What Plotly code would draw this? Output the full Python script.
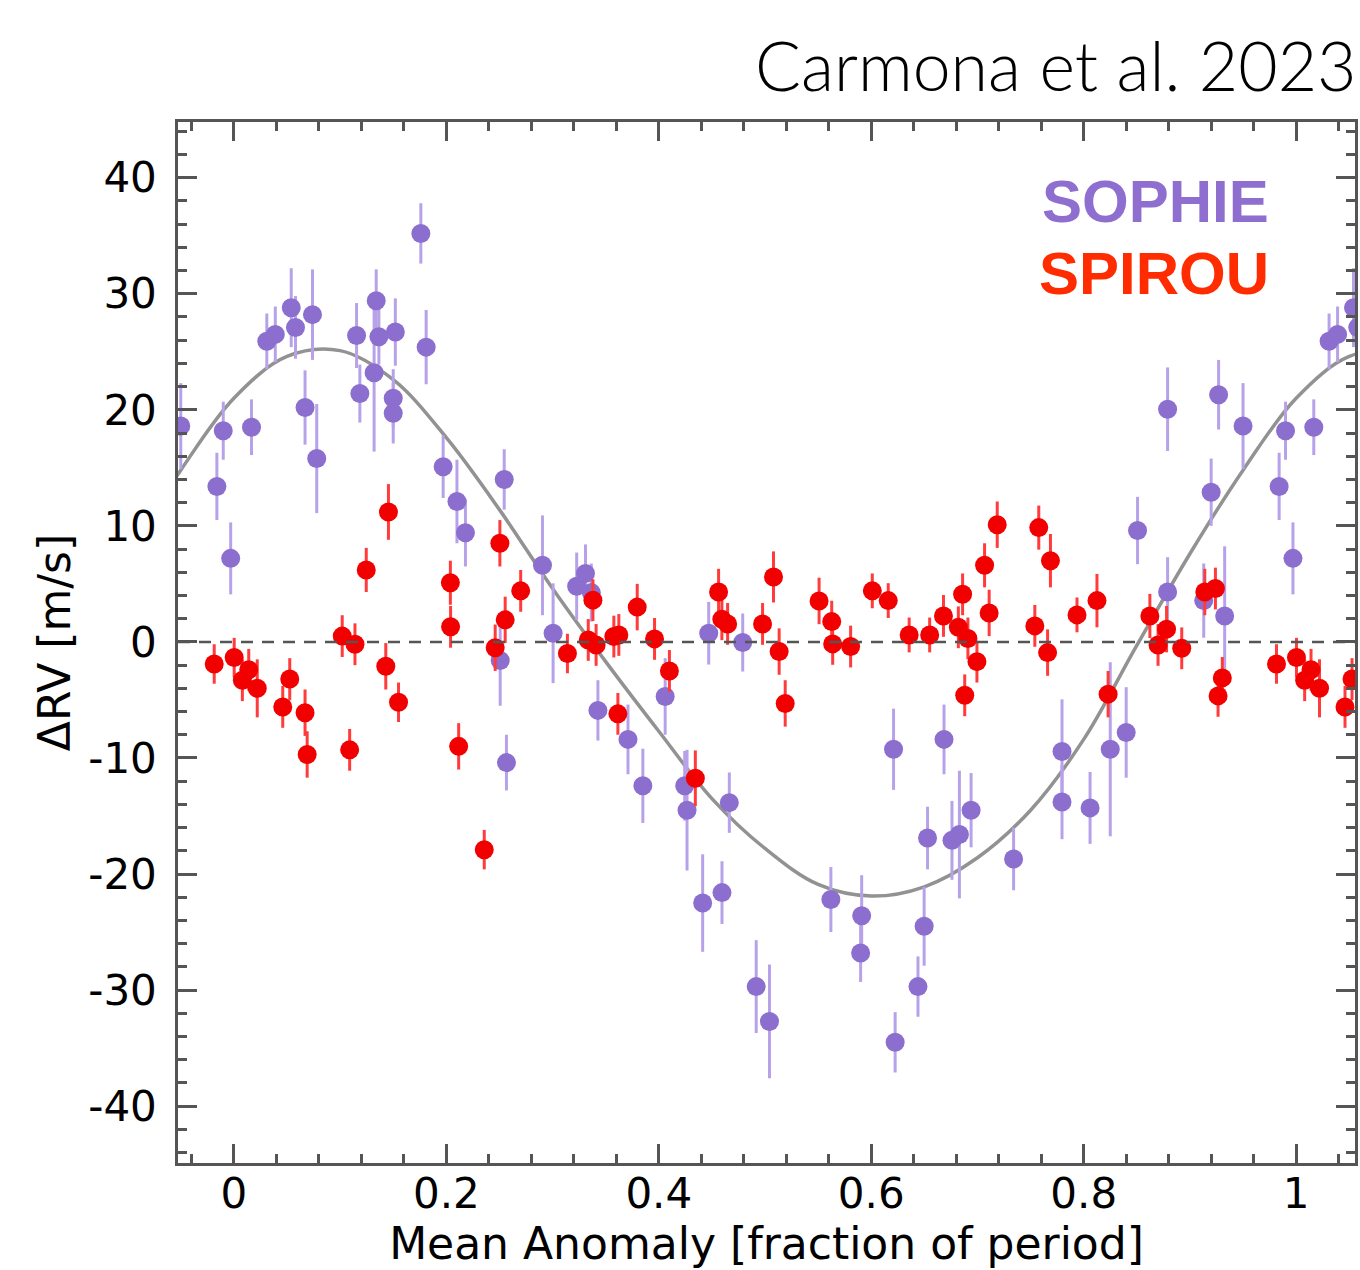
import plotly.graph_objects as go

# ---------------- data ----------------
# SOPHIE: orbital phase in [0,1), delta RV [m/s], error [m/s]
sophie_phase = [0.0166, 0.031, 0.039, 0.054, 0.058, 0.067, 0.074, 0.078, 0.1155, 0.1186,
                0.132, 0.134, 0.1365, 0.150, 0.150, 0.152, 0.176, 0.181, 0.197, 0.210,
                0.218, 0.2507, 0.2545, 0.2566, 0.2905, 0.3005, 0.3227, 0.331, 0.3365, 0.3427,
                0.371, 0.385, 0.406, 0.4244, 0.4266, 0.4413, 0.447, 0.4595, 0.4664, 0.479,
                0.4917, 0.5042, 0.562, 0.590, 0.591, 0.621, 0.6225, 0.644, 0.6498, 0.653,
                0.6685, 0.676, 0.683, 0.694, 0.734, 0.7796, 0.7796, 0.806, 0.825, 0.840,
                0.8507, 0.879, 0.879, 0.913, 0.920, 0.927, 0.9327, 0.950, 0.984, 0.990,
                0.997]
sophie_rv = [18.5, 25.9, 26.5, 28.8, 27.1, 20.2, 28.2, 15.8, 26.4, 21.4,
             23.2, 29.4, 26.3, 21.0, 19.7, 26.7, 35.2, 25.4, 15.1, 12.1,
             9.4, -1.6, 14.0, -10.4, 6.6, 0.75, 4.8, 5.9, 4.25, -5.9,
             -8.4, -12.4, -4.7, -12.4, -14.5, -22.5, 0.75, -21.6, -13.85, -0.05,
             -29.7, -32.7, -22.2, -26.8, -23.6, -9.25, -34.5, -29.7, -24.5, -16.9,
             -8.4, -17.1, -16.6, -14.5, -18.7, -9.45, -13.8, -14.3, -9.25, -7.8,
             9.6, 4.3, 20.05, 3.56, 12.9, 21.3, 2.24, 18.6, 13.4, 18.2,
             7.2]
sophie_err = [2.4, 2.4, 2.4, 3.4, 2.7, 3.2, 3.9, 4.7, 2.8, 2.5,
              6.8, 2.7, 2.4, 2.5, 2.6, 2.9, 2.6, 3.2, 2.7, 3.6,
              2.9, 3.9, 2.6, 2.4, 4.3, 4.3, 2.9, 2.5, 2.5, 2.6,
              3.0, 3.2, 3.3, 3.0, 5.2, 4.2, 2.7, 2.7, 2.6, 2.5,
              4.0, 4.9, 2.8, 2.5, 3.5, 3.5, 2.6, 2.6, 3.4, 2.7,
              3.0, 3.4, 5.5, 3.2, 2.7, 4.5, 3.2, 3.1, 7.5, 3.9,
              2.9, 3.0, 3.6, 3.2, 2.9, 3.0, 6.0, 3.7, 2.9, 2.5,
              3.1]

# SPIRou: orbital phase in [0,1), delta RV [m/s], error [m/s]
spirou_phase = [0.0003, 0.008, 0.014, 0.022, 0.046, 0.0526, 0.067, 0.069, 0.102, 0.109,
                0.114, 0.1246, 0.143, 0.1455, 0.155, 0.2038, 0.204, 0.2116, 0.2357, 0.246,
                0.2504, 0.2554, 0.270, 0.314, 0.3336, 0.338, 0.341, 0.3577, 0.3615, 0.3624,
                0.3797, 0.396, 0.410, 0.4344, 0.4563, 0.4594, 0.4648, 0.4977, 0.508, 0.5133,
                0.519, 0.5509, 0.5628, 0.5637, 0.5806, 0.601, 0.616, 0.6357, 0.655, 0.668,
                0.682, 0.686, 0.688, 0.691, 0.6995, 0.7067, 0.711, 0.7186, 0.754, 0.7577,
                0.766, 0.7687, 0.7937, 0.8125, 0.823, 0.8623, 0.870, 0.878, 0.8923, 0.914,
                0.924, 0.9265, 0.9305, 0.9815]
spirou_rv = [-1.35, -3.3, -2.4, -4.0, -5.6, -3.2, -6.1, -9.7, 0.5, -9.3,
             -0.2, 6.2, -2.1, 11.2, -5.2, 5.1, 1.3, -9.0, -17.9, -0.5,
             8.5, 1.9, 4.4, -1.0, 0.17, 3.6, -0.26, 0.46, -6.2, 0.6,
             3.0, 0.26, -2.5, -11.75, 4.3, 1.95, 1.55, 1.55, 5.6, -0.83,
             -5.3, 3.53, 1.75, -0.17, -0.4, 4.4, 3.56, 0.6, 0.6, 2.24,
             1.26, 4.1, -4.6, 0.3, -1.7, 6.6, 2.5, 10.1, 1.38, 9.85,
             -0.92, 7.0, 2.33, 3.56, -4.5, 2.24, -0.26, 1.1, -0.55, 4.3,
             4.6, -4.65, -3.1, -1.9]
spirou_err = [1.7, 1.8, 1.8, 2.5, 1.8, 1.8, 2.0, 2.0, 1.8, 1.8,
              1.8, 1.9, 2.0, 2.4, 1.7, 1.9, 1.8, 2.0, 1.7, 2.0,
              2.0, 2.0, 1.8, 1.7, 1.8, 1.8, 1.8, 1.8, 1.8, 1.8,
              2.0, 1.8, 1.8, 2.4, 2.0, 1.8, 1.8, 1.8, 2.2, 2.0,
              2.0, 2.0, 1.8, 1.8, 1.8, 1.5, 1.5, 1.5, 1.5, 1.8,
              1.8, 1.8, 1.8, 1.8, 1.8, 1.9, 2.0, 2.0, 1.8, 1.9,
              2.0, 2.3, 1.5, 2.3, 2.0, 1.9, 1.8, 2.0, 1.8, 2.0,
              1.8, 1.8, 1.8, 1.7]

# Orbital model curve, sampled from the reference over one period
model_phase = [0.00, 0.05, 0.10, 0.15, 0.20, 0.25, 0.30, 0.35, 0.40, 0.45,
               0.50, 0.55, 0.60, 0.65, 0.70, 0.75, 0.80, 0.85, 0.90, 0.95]
model_rv = [21.0, 24.6, 25.1, 22.6, 17.6, 11.4, 4.6, -1.7, -7.7, -13.5,
            -17.8, -20.9, -21.9, -21.1, -18.6, -14.5, -8.4, -0.3, 7.6, 14.8]

x_ticks = [0, 0.2, 0.4, 0.6, 0.8, 1]
x_ticklabels = ["0", "0.2", "0.4", "0.6", "0.8", "1"]
y_ticks = [-40, -30, -20, -10, 0, 10, 20, 30, 40]
y_ticklabels = ["-40", "-30", "-20", "-10", "0", "10", "20", "30", "40"]

X_RANGE = [-0.0526, 1.0554]
Y_RANGE = [-44.9, 44.8]


def wrap(phase, *cols, lo=-0.06, hi=1.06):
    """Repeat phase-folded data one period either side, keeping the visible part."""
    out = [[] for _ in range(len(cols) + 1)]
    for shift in (-1, 0, 1):
        for i, p in enumerate(phase):
            x = p + shift
            if lo <= x <= hi:
                out[0].append(x)
                for k, c in enumerate(cols):
                    out[k + 1].append(c[i])
    order = sorted(range(len(out[0])), key=lambda j: out[0][j])
    return [[o[j] for j in order] for o in out]


PURPLE = "#8C6ECE"
PURPLE_ERR = "#B7A2EA"
RED = "#F20000"
RED_ERR = "#FF3B3B"
FONT = "DejaVu Sans"

fig = go.Figure()

mx, my = wrap(model_phase, model_rv, lo=-0.15, hi=1.15)
fig.add_trace(go.Scatter(x=mx, y=my, mode="lines", line=dict(color="#929292", width=3.5, shape="spline"),
                         hoverinfo="skip", showlegend=False))

fig.add_shape(type="line", xref="paper", yref="y", x0=0, x1=1, y0=0, y1=0,
              line=dict(color="#555555", width=2.5, dash="12px,9px"))

sx, sy, se = wrap(sophie_phase, sophie_rv, sophie_err)
fig.add_trace(go.Scatter(x=sx, y=sy, mode="markers", name="SOPHIE",
                         marker=dict(color=PURPLE, size=19, line=dict(width=0)),
                         error_y=dict(type="data", array=se, color=PURPLE_ERR, thickness=3, width=0),
                         showlegend=False))

rx, ry, re_ = wrap(spirou_phase, spirou_rv, spirou_err)
fig.add_trace(go.Scatter(x=rx, y=ry, mode="markers", name="SPIRou",
                         marker=dict(color=RED, size=19, line=dict(width=0)),
                         error_y=dict(type="data", array=re_, color=RED_ERR, thickness=3, width=0),
                         showlegend=False))

axis_common = dict(
    showline=True, linecolor="#555555", linewidth=2.5, mirror="ticks",
    ticks="inside", tickcolor="#555555", tickwidth=2.5, ticklen=19,
    showgrid=False, zeroline=False,
    tickfont=dict(family=FONT, size=42, color="black"),
)

fig.update_xaxes(range=X_RANGE, tickvals=x_ticks, ticktext=x_ticklabels,
                 ticklabelstandoff=-8,
                 minor=dict(dtick=0.04, tick0=0, ticks="inside", ticklen=9, tickwidth=2.5,
                            tickcolor="#555555", showgrid=False),
                 title=dict(text="Mean Anomaly [fraction of period]",
                            font=dict(family=FONT, size=44, color="black"), standoff=10),
                 **axis_common)
fig.update_yaxes(range=Y_RANGE, tickvals=y_ticks, ticktext=y_ticklabels,
                 ticklabelstandoff=10,
                 minor=dict(dtick=2, tick0=0, ticks="inside", ticklen=9, tickwidth=2.5,
                            tickcolor="#555555", showgrid=False),
                 title=dict(text="ΔRV [m/s]",
                            font=dict(family=FONT, size=44, color="black"), standoff=4),
                 **axis_common)

fig.add_annotation(text="Carmona et al. 2023", xref="paper", yref="paper",
                   x=1.003, y=1.055, xanchor="right", yanchor="middle", showarrow=False,
                   font=dict(family="Lato", size=68, color="black", weight=300))
fig.add_annotation(text="<b>SOPHIE</b>", xref="paper", yref="paper",
                   x=0.929, y=0.9236, xanchor="right", yanchor="middle", showarrow=False,
                   font=dict(family="Liberation Sans", size=60, color="#8E6ECE"))
fig.add_annotation(text="<b>SPIROU</b>", xref="paper", yref="paper",
                   x=0.929, y=0.8545, xanchor="right", yanchor="middle", showarrow=False,
                   font=dict(family="Liberation Sans", size=60, color="#FF2C00"))

fig.update_layout(
    width=1360, height=1270,
    margin=dict(l=178, r=2, t=122, b=107),
    paper_bgcolor="white", plot_bgcolor="white",
    showlegend=False,
)

fig.write_html("out.html")
